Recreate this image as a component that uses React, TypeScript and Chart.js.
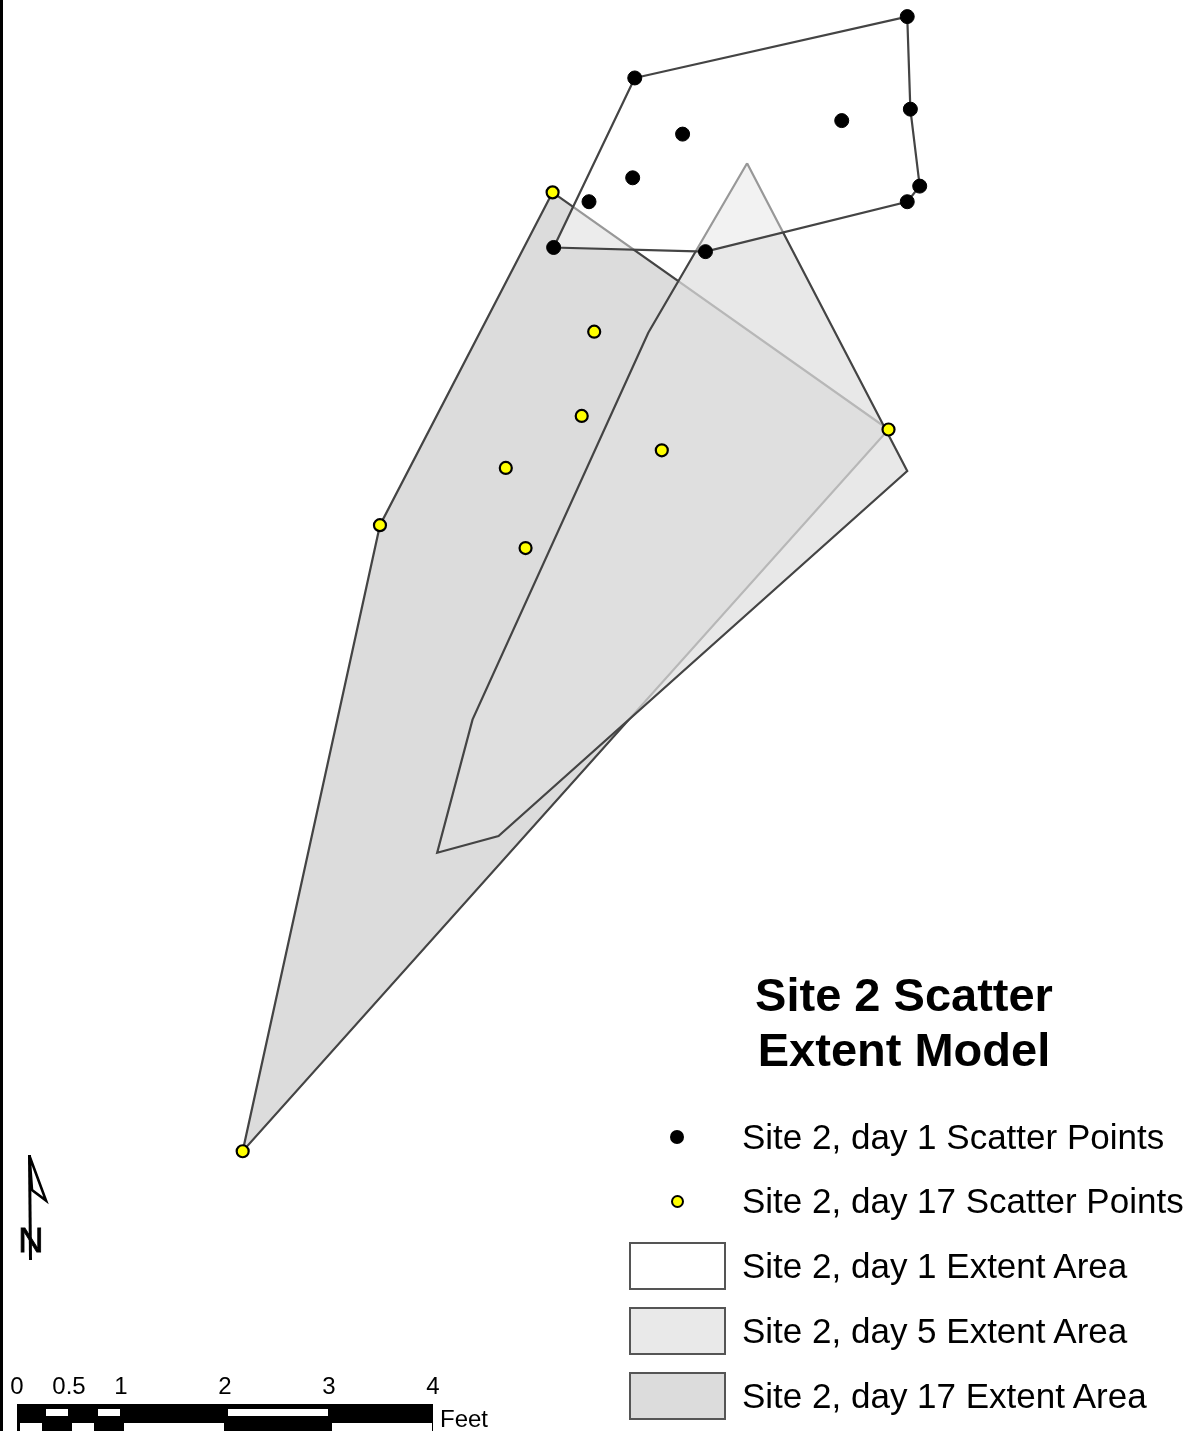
import React, { useEffect, useRef } from "react";
import { Chart, registerables } from "chart.js";

Chart.register(...registerables);

// ---------- data (feet; x from scale-bar zero, y up from bottom edge) ----------
const day1X = [8.56, 5.94, 8.59, 7.93, 6.40, 5.92, 5.50, 8.68, 8.56, 5.16, 6.62];
const day1Y = [13.60, 13.01, 12.71, 12.60, 12.47, 12.05, 11.82, 11.97, 11.82, 11.38, 11.34];

const day17X = [5.15, 5.55, 5.43, 6.20, 4.70, 8.38, 3.49, 4.89, 2.17];
const day17Y = [11.91, 10.57, 9.76, 9.43, 9.26, 9.63, 8.71, 8.49, 2.69];

const day1AreaX = [5.94, 8.56, 8.59, 8.68, 8.56, 6.62, 5.16];
const day1AreaY = [13.01, 13.60, 12.71, 11.97, 11.82, 11.34, 11.38];

const day5AreaX = [7.02, 8.56, 4.63, 4.04, 4.38, 6.07];
const day5AreaY = [12.19, 9.23, 5.72, 5.56, 6.84, 10.56];

const day17AreaX = [5.15, 8.38, 2.17, 3.49];
const day17AreaY = [11.91, 9.63, 2.69, 8.71];

const scaleTicks = [0, 0.5, 1, 2, 3, 4];
const scaleTickLabels = ["0", "0.5", "1", "2", "3", "4"];
const scaleUnit = "Feet";

const titleLines = ["Site 2 Scatter", "Extent Model"];
const legendLabels = [
  "Site 2, day 1 Scatter Points",
  "Site 2, day 17 Scatter Points",
  "Site 2, day 1 Extent Area",
  "Site 2, day 5 Extent Area",
  "Site 2, day 17 Extent Area",
];

// ---------- layout ----------
const W = 1188;
const H = 1431;
const PX_PER_FT = 104;
const ORIGIN_X = 17;
const FONT = '"Liberation Sans", Arial, sans-serif';
const EDGE = "#444444";

const pts = (xs: number[], ys: number[]) => xs.map((x, i) => ({ x, y: ys[i] }));
const ring = (xs: number[], ys: number[]) => {
  const p = pts(xs, ys);
  return [...p, p[0]];
};

export default function App() {
  const ref = useRef<HTMLCanvasElement | null>(null);

  useEffect(() => {
    document.body.style.margin = "0";
    document.body.style.overflow = "hidden";
    const canvas = ref.current;
    if (!canvas) return;
    const poly = (data: any[], bg: string) => ({
      type: "line" as const,
      data,
      borderColor: EDGE,
      borderWidth: 2.2,
      backgroundColor: bg,
      fill: "shape",
      tension: 0,
      pointRadius: 0,
      pointHoverRadius: 0,
    });
    const chart = new Chart(canvas, {
      type: "line",
      data: {
        datasets: [
          {
            type: "scatter",
            data: pts(day1X, day1Y),
            showLine: false,
            pointRadius: 7,
            pointBackgroundColor: "#000000",
            pointBorderColor: "#000000",
            pointBorderWidth: 1,
          } as any,
          {
            type: "scatter",
            data: pts(day17X, day17Y),
            showLine: false,
            pointRadius: 6,
            pointBackgroundColor: "#ffff00",
            pointBorderColor: "#000000",
            pointBorderWidth: 2.2,
          } as any,
          poly(ring(day1AreaX, day1AreaY), "rgba(255,255,255,0.45)"),
          poly(ring(day5AreaX, day5AreaY), "rgba(224,224,224,0.74)"),
          poly(ring(day17AreaX, day17AreaY), "#dcdcdc"),
        ],
      },
      options: {
        responsive: false,
        animation: false,
        events: [],
        layout: { padding: 0, autoPadding: false },
        plugins: { legend: { display: false }, tooltip: { enabled: false }, title: { display: false } },
        scales: {
          x: { type: "linear", display: false, min: -ORIGIN_X / PX_PER_FT, max: (W - ORIGIN_X) / PX_PER_FT },
          y: { type: "linear", display: false, min: 0, max: H / PX_PER_FT },
        },
      } as any,
    });
    return () => chart.destroy();
  }, []);

  const sx = (v: number) => ORIGIN_X + v * PX_PER_FT;
  const rowCenters = [1137, 1201, 1266, 1331, 1396];
  const boxFills = ["#ffffff", "#e9e9e9", "#dcdcdc"];

  // scale bar white cells, alternating rows
  const cellEdges = [0, 0.25, 0.5, 0.75, 1, 2, 3, 4];
  const whiteCells: { a: number; b: number; row: number }[] = [];
  for (let i = 0; i < cellEdges.length - 1; i++) {
    whiteCells.push({ a: cellEdges[i], b: cellEdges[i + 1], row: i % 2 === 0 ? 1 : 0 });
  }

  return (
    <div style={{ position: "relative", width: W, height: H, overflow: "hidden", background: "#fff", fontFamily: FONT }}>
      <canvas ref={ref} width={W} height={H} style={{ position: "absolute", left: 0, top: 0, width: W, height: H }} />
      <div style={{ position: "absolute", left: 0, top: 0, width: 3, height: H, background: "#000" }} />

      {/* title */}
      <div
        style={{
          position: "absolute",
          left: 904 - 250,
          width: 500,
          top: 967,
          textAlign: "center",
          fontWeight: "bold",
          fontSize: 47,
          lineHeight: "55px",
          color: "#000",
        }}
      >
        {titleLines.map((t, i) => (
          <div key={i}>{t}</div>
        ))}
      </div>

      {/* legend */}
      <div style={{ position: "absolute", left: 677 - 7, top: rowCenters[0] - 7, width: 14, height: 14, borderRadius: 7, background: "#000" }} />
      <div
        style={{
          position: "absolute",
          left: 677 - 6.5,
          top: rowCenters[1] - 6.5,
          width: 13,
          height: 13,
          borderRadius: 6.5,
          background: "#ffff00",
          border: "2px solid #000",
          boxSizing: "border-box",
        }}
      />
      {boxFills.map((c, i) => (
        <div
          key={i}
          style={{
            position: "absolute",
            left: 629,
            top: rowCenters[i + 2] - 24,
            width: 97,
            height: 48,
            background: c,
            border: "2px solid #555",
            boxSizing: "border-box",
          }}
        />
      ))}
      {legendLabels.map((t, i) => (
        <div
          key={i}
          style={{
            position: "absolute",
            left: 742,
            top: rowCenters[i] - 20,
            fontSize: 35,
            lineHeight: "40px",
            whiteSpace: "nowrap",
            color: "#000",
          }}
        >
          {t}
        </div>
      ))}

      {/* north arrow */}
      <svg style={{ position: "absolute", left: 0, top: 1140 }} width={80} height={130}>
        <text x={31} y={111.5} textAnchor="middle" fontFamily={FONT} fontSize={35} fill="#000" stroke="#000" strokeWidth={0.8}>
          N
        </text>
        <line x1={29.5} y1={15} x2={30.5} y2={120} stroke="#000" strokeWidth={3} />
        <polygon points="29.5,16 46,60.5 32,50" fill="#fff" stroke="#000" strokeWidth={2.6} strokeLinejoin="miter" />
      </svg>

      {/* scale bar */}
      {scaleTicks.map((v, i) => (
        <div
          key={i}
          style={{
            position: "absolute",
            left: sx(v) - 30,
            width: 60,
            top: 1372,
            textAlign: "center",
            fontSize: 24,
            lineHeight: "28px",
            color: "#000",
          }}
        >
          {scaleTickLabels[i]}
        </div>
      ))}
      <div style={{ position: "absolute", left: sx(0), top: 1404, width: sx(4) - sx(0), height: 32, background: "#000" }} />
      {whiteCells.map((c, i) => (
        <div
          key={i}
          style={{
            position: "absolute",
            left: sx(c.a) + 3,
            width: sx(c.b) - sx(c.a) - 4,
            top: c.row === 0 ? 1409 : 1423,
            height: c.row === 0 ? 7 : 12,
            background: "#fff",
          }}
        />
      ))}
      <div style={{ position: "absolute", left: 440, top: 1405, fontSize: 24, lineHeight: "28px", color: "#000" }}>{scaleUnit}</div>
    </div>
  );
}
